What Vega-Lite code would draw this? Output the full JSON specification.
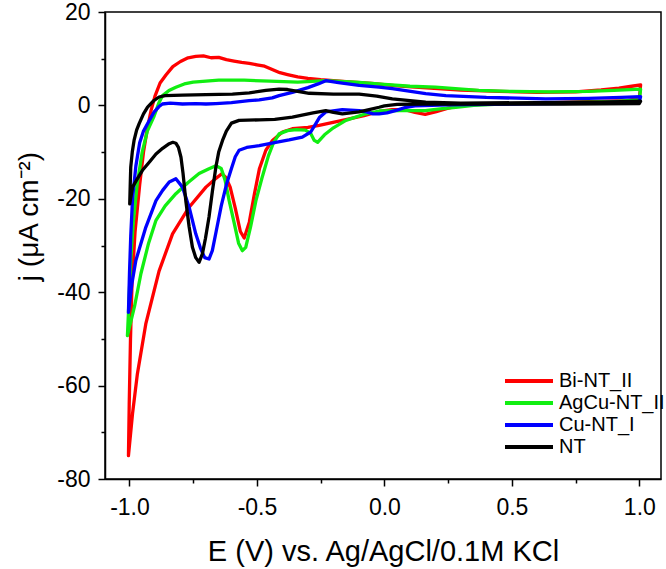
{
  "$schema": "https://vega.github.io/schema/vega-lite/v6.json",
  "autosize": {"type": "none"},
  "padding": {"left": 105, "top": 12, "right": 5, "bottom": 90},
  "width": 556,
  "height": 467,
  "background": "white",
  "config": {
    "font": "Liberation Sans",
    "view": {"stroke": "#000", "strokeWidth": 1.5},
    "axis": {"domainColor": "#000", "domainWidth": 1.5, "tickColor": "#000", "tickWidth": 1.5, "labelColor": "#000", "titleColor": "#000", "grid": false, "titleFontWeight": "normal", "labelFont": "Liberation Sans", "titleFont": "Liberation Sans"}
  },
  "data": {"values": [
    {"s":"Bi-NT_II","i":1,"E":-1.004,"j":-75.0},{"s":"Bi-NT_II","i":2,"E":-1.001,"j":-64},{"s":"Bi-NT_II","i":3,"E":-0.996,"j":-50},{"s":"Bi-NT_II","i":4,"E":-0.990,"j":-38},{"s":"Bi-NT_II","i":5,"E":-0.978,"j":-27},{"s":"Bi-NT_II","i":6,"E":-0.960,"j":-17},{"s":"Bi-NT_II","i":7,"E":-0.945,"j":-10},{"s":"Bi-NT_II","i":8,"E":-0.930,"j":-5},{"s":"Bi-NT_II","i":9,"E":-0.915,"j":-1},{"s":"Bi-NT_II","i":10,"E":-0.900,"j":2},{"s":"Bi-NT_II","i":11,"E":-0.880,"j":4.8},{"s":"Bi-NT_II","i":12,"E":-0.857,"j":6.5},{"s":"Bi-NT_II","i":13,"E":-0.830,"j":8.3},{"s":"Bi-NT_II","i":14,"E":-0.800,"j":9.4},{"s":"Bi-NT_II","i":15,"E":-0.770,"j":10.2},{"s":"Bi-NT_II","i":16,"E":-0.740,"j":10.5},{"s":"Bi-NT_II","i":17,"E":-0.710,"j":10.6},{"s":"Bi-NT_II","i":18,"E":-0.680,"j":10.2},{"s":"Bi-NT_II","i":19,"E":-0.650,"j":10.3},{"s":"Bi-NT_II","i":20,"E":-0.620,"j":9.8},{"s":"Bi-NT_II","i":21,"E":-0.590,"j":9.5},{"s":"Bi-NT_II","i":22,"E":-0.560,"j":9.2},{"s":"Bi-NT_II","i":23,"E":-0.530,"j":9.0},{"s":"Bi-NT_II","i":24,"E":-0.500,"j":8.7},{"s":"Bi-NT_II","i":25,"E":-0.470,"j":8.4},{"s":"Bi-NT_II","i":26,"E":-0.440,"j":7.7},{"s":"Bi-NT_II","i":27,"E":-0.410,"j":7.0},{"s":"Bi-NT_II","i":28,"E":-0.380,"j":6.6},{"s":"Bi-NT_II","i":29,"E":-0.340,"j":6.1},{"s":"Bi-NT_II","i":30,"E":-0.300,"j":5.8},{"s":"Bi-NT_II","i":31,"E":-0.250,"j":5.5},{"s":"Bi-NT_II","i":32,"E":-0.150,"j":5.1},{"s":"Bi-NT_II","i":33,"E":-0.050,"j":4.7},{"s":"Bi-NT_II","i":34,"E":0.050,"j":4.2},{"s":"Bi-NT_II","i":35,"E":0.150,"j":3.8},{"s":"Bi-NT_II","i":36,"E":0.300,"j":3.3},{"s":"Bi-NT_II","i":37,"E":0.450,"j":3.0},{"s":"Bi-NT_II","i":38,"E":0.600,"j":2.8},{"s":"Bi-NT_II","i":39,"E":0.750,"j":2.9},{"s":"Bi-NT_II","i":40,"E":0.850,"j":3.3},{"s":"Bi-NT_II","i":41,"E":0.920,"j":3.7},{"s":"Bi-NT_II","i":42,"E":0.970,"j":4.1},{"s":"Bi-NT_II","i":43,"E":1.005,"j":4.4},{"s":"Bi-NT_II","i":44,"E":1.000,"j":1.5},{"s":"Bi-NT_II","i":45,"E":0.950,"j":1.0},{"s":"Bi-NT_II","i":46,"E":0.800,"j":0.8},{"s":"Bi-NT_II","i":47,"E":0.600,"j":0.5},{"s":"Bi-NT_II","i":48,"E":0.400,"j":0.3},{"s":"Bi-NT_II","i":49,"E":0.300,"j":0.0},{"s":"Bi-NT_II","i":50,"E":0.250,"j":-0.6},{"s":"Bi-NT_II","i":51,"E":0.200,"j":-1.4},{"s":"Bi-NT_II","i":52,"E":0.160,"j":-1.9},{"s":"Bi-NT_II","i":53,"E":0.120,"j":-1.5},{"s":"Bi-NT_II","i":54,"E":0.080,"j":-0.9},{"s":"Bi-NT_II","i":55,"E":0.030,"j":-0.9},{"s":"Bi-NT_II","i":56,"E":-0.020,"j":-1.3},{"s":"Bi-NT_II","i":57,"E":-0.080,"j":-2.2},{"s":"Bi-NT_II","i":58,"E":-0.165,"j":-3.2},{"s":"Bi-NT_II","i":59,"E":-0.256,"j":-4.3},{"s":"Bi-NT_II","i":60,"E":-0.300,"j":-4.7},{"s":"Bi-NT_II","i":61,"E":-0.361,"j":-5.0},{"s":"Bi-NT_II","i":62,"E":-0.400,"j":-5.7},{"s":"Bi-NT_II","i":63,"E":-0.439,"j":-7.5},{"s":"Bi-NT_II","i":64,"E":-0.465,"j":-9.6},{"s":"Bi-NT_II","i":65,"E":-0.490,"j":-13.5},{"s":"Bi-NT_II","i":66,"E":-0.510,"j":-19},{"s":"Bi-NT_II","i":67,"E":-0.530,"j":-25},{"s":"Bi-NT_II","i":68,"E":-0.550,"j":-28.4},{"s":"Bi-NT_II","i":69,"E":-0.565,"j":-27},{"s":"Bi-NT_II","i":70,"E":-0.585,"j":-22},{"s":"Bi-NT_II","i":71,"E":-0.605,"j":-17.5},{"s":"Bi-NT_II","i":72,"E":-0.622,"j":-15.4},{"s":"Bi-NT_II","i":73,"E":-0.637,"j":-14.6},{"s":"Bi-NT_II","i":74,"E":-0.665,"j":-15.8},{"s":"Bi-NT_II","i":75,"E":-0.700,"j":-17.5},{"s":"Bi-NT_II","i":76,"E":-0.766,"j":-21.8},{"s":"Bi-NT_II","i":77,"E":-0.831,"j":-27.5},{"s":"Bi-NT_II","i":78,"E":-0.884,"j":-35.5},{"s":"Bi-NT_II","i":79,"E":-0.936,"j":-46.8},{"s":"Bi-NT_II","i":80,"E":-0.969,"j":-57.5},{"s":"Bi-NT_II","i":81,"E":-0.988,"j":-66},{"s":"Bi-NT_II","i":82,"E":-1.004,"j":-75.0},
    {"s":"AgCu-NT_II","i":1,"E":-1.008,"j":-49.3},{"s":"AgCu-NT_II","i":2,"E":-1.002,"j":-42},{"s":"AgCu-NT_II","i":3,"E":-0.995,"j":-33},{"s":"AgCu-NT_II","i":4,"E":-0.985,"j":-25},{"s":"AgCu-NT_II","i":5,"E":-0.970,"j":-17},{"s":"AgCu-NT_II","i":6,"E":-0.950,"j":-10},{"s":"AgCu-NT_II","i":7,"E":-0.930,"j":-5.5},{"s":"AgCu-NT_II","i":8,"E":-0.905,"j":-2.5},{"s":"AgCu-NT_II","i":9,"E":-0.885,"j":0.5},{"s":"AgCu-NT_II","i":10,"E":-0.870,"j":2.1},{"s":"AgCu-NT_II","i":11,"E":-0.845,"j":3.2},{"s":"AgCu-NT_II","i":12,"E":-0.818,"j":3.9},{"s":"AgCu-NT_II","i":13,"E":-0.785,"j":4.6},{"s":"AgCu-NT_II","i":14,"E":-0.750,"j":5.0},{"s":"AgCu-NT_II","i":15,"E":-0.700,"j":5.2},{"s":"AgCu-NT_II","i":16,"E":-0.650,"j":5.4},{"s":"AgCu-NT_II","i":17,"E":-0.550,"j":5.4},{"s":"AgCu-NT_II","i":18,"E":-0.450,"j":5.2},{"s":"AgCu-NT_II","i":19,"E":-0.340,"j":5.0},{"s":"AgCu-NT_II","i":20,"E":-0.230,"j":5.3},{"s":"AgCu-NT_II","i":21,"E":-0.100,"j":4.9},{"s":"AgCu-NT_II","i":22,"E":0.000,"j":4.5},{"s":"AgCu-NT_II","i":23,"E":0.100,"j":4.1},{"s":"AgCu-NT_II","i":24,"E":0.200,"j":3.9},{"s":"AgCu-NT_II","i":25,"E":0.370,"j":3.2},{"s":"AgCu-NT_II","i":26,"E":0.500,"j":3.0},{"s":"AgCu-NT_II","i":27,"E":0.650,"j":2.9},{"s":"AgCu-NT_II","i":28,"E":0.800,"j":3.0},{"s":"AgCu-NT_II","i":29,"E":0.900,"j":3.2},{"s":"AgCu-NT_II","i":30,"E":1.005,"j":3.5},{"s":"AgCu-NT_II","i":31,"E":1.000,"j":1.2},{"s":"AgCu-NT_II","i":32,"E":0.900,"j":0.8},{"s":"AgCu-NT_II","i":33,"E":0.700,"j":0.6},{"s":"AgCu-NT_II","i":34,"E":0.500,"j":0.4},{"s":"AgCu-NT_II","i":35,"E":0.350,"j":0.0},{"s":"AgCu-NT_II","i":36,"E":0.280,"j":-0.4},{"s":"AgCu-NT_II","i":37,"E":0.227,"j":-0.7},{"s":"AgCu-NT_II","i":38,"E":0.160,"j":-1.1},{"s":"AgCu-NT_II","i":39,"E":0.060,"j":-1.1},{"s":"AgCu-NT_II","i":40,"E":-0.020,"j":-1.2},{"s":"AgCu-NT_II","i":41,"E":-0.073,"j":-1.8},{"s":"AgCu-NT_II","i":42,"E":-0.151,"j":-3.2},{"s":"AgCu-NT_II","i":43,"E":-0.200,"j":-4.8},{"s":"AgCu-NT_II","i":44,"E":-0.235,"j":-6.3},{"s":"AgCu-NT_II","i":45,"E":-0.262,"j":-7.9},{"s":"AgCu-NT_II","i":46,"E":-0.275,"j":-7.5},{"s":"AgCu-NT_II","i":47,"E":-0.289,"j":-6.0},{"s":"AgCu-NT_II","i":48,"E":-0.310,"j":-5.3},{"s":"AgCu-NT_II","i":49,"E":-0.345,"j":-5.2},{"s":"AgCu-NT_II","i":50,"E":-0.380,"j":-5.4},{"s":"AgCu-NT_II","i":51,"E":-0.413,"j":-6.1},{"s":"AgCu-NT_II","i":52,"E":-0.435,"j":-8.0},{"s":"AgCu-NT_II","i":53,"E":-0.455,"j":-10.8},{"s":"AgCu-NT_II","i":54,"E":-0.480,"j":-15.5},{"s":"AgCu-NT_II","i":55,"E":-0.504,"j":-20.4},{"s":"AgCu-NT_II","i":56,"E":-0.525,"j":-26},{"s":"AgCu-NT_II","i":57,"E":-0.544,"j":-30.4},{"s":"AgCu-NT_II","i":58,"E":-0.557,"j":-31.1},{"s":"AgCu-NT_II","i":59,"E":-0.572,"j":-29.5},{"s":"AgCu-NT_II","i":60,"E":-0.590,"j":-25},{"s":"AgCu-NT_II","i":61,"E":-0.609,"j":-20.4},{"s":"AgCu-NT_II","i":62,"E":-0.625,"j":-16},{"s":"AgCu-NT_II","i":63,"E":-0.640,"j":-13.5},{"s":"AgCu-NT_II","i":64,"E":-0.661,"j":-12.9},{"s":"AgCu-NT_II","i":65,"E":-0.690,"j":-13.6},{"s":"AgCu-NT_II","i":66,"E":-0.727,"j":-14.6},{"s":"AgCu-NT_II","i":67,"E":-0.770,"j":-16.5},{"s":"AgCu-NT_II","i":68,"E":-0.818,"j":-18.9},{"s":"AgCu-NT_II","i":69,"E":-0.860,"j":-21.5},{"s":"AgCu-NT_II","i":70,"E":-0.896,"j":-24.6},{"s":"AgCu-NT_II","i":71,"E":-0.925,"j":-29.5},{"s":"AgCu-NT_II","i":72,"E":-0.955,"j":-36},{"s":"AgCu-NT_II","i":73,"E":-0.980,"j":-43},{"s":"AgCu-NT_II","i":74,"E":-1.008,"j":-49.3},
    {"s":"Cu-NT_I","i":1,"E":-1.004,"j":-44.3},{"s":"Cu-NT_I","i":2,"E":-1.000,"j":-36},{"s":"Cu-NT_I","i":3,"E":-0.995,"j":-28},{"s":"Cu-NT_I","i":4,"E":-0.988,"j":-20},{"s":"Cu-NT_I","i":5,"E":-0.975,"j":-13},{"s":"Cu-NT_I","i":6,"E":-0.960,"j":-8},{"s":"Cu-NT_I","i":7,"E":-0.945,"j":-5.5},{"s":"Cu-NT_I","i":8,"E":-0.925,"j":-3.5},{"s":"Cu-NT_I","i":9,"E":-0.903,"j":-1.4},{"s":"Cu-NT_I","i":10,"E":-0.885,"j":-0.3},{"s":"Cu-NT_I","i":11,"E":-0.871,"j":0.3},{"s":"Cu-NT_I","i":12,"E":-0.840,"j":0.5},{"s":"Cu-NT_I","i":13,"E":-0.792,"j":0.3},{"s":"Cu-NT_I","i":14,"E":-0.740,"j":0.4},{"s":"Cu-NT_I","i":15,"E":-0.700,"j":0.3},{"s":"Cu-NT_I","i":16,"E":-0.661,"j":0.4},{"s":"Cu-NT_I","i":17,"E":-0.600,"j":0.6},{"s":"Cu-NT_I","i":18,"E":-0.531,"j":1.0},{"s":"Cu-NT_I","i":19,"E":-0.491,"j":1.2},{"s":"Cu-NT_I","i":20,"E":-0.440,"j":1.6},{"s":"Cu-NT_I","i":21,"E":-0.413,"j":2.1},{"s":"Cu-NT_I","i":22,"E":-0.361,"j":2.8},{"s":"Cu-NT_I","i":23,"E":-0.300,"j":3.8},{"s":"Cu-NT_I","i":24,"E":-0.260,"j":4.6},{"s":"Cu-NT_I","i":25,"E":-0.230,"j":5.3},{"s":"Cu-NT_I","i":26,"E":-0.180,"j":4.9},{"s":"Cu-NT_I","i":27,"E":-0.099,"j":4.3},{"s":"Cu-NT_I","i":28,"E":-0.021,"j":3.9},{"s":"Cu-NT_I","i":29,"E":0.031,"j":3.6},{"s":"Cu-NT_I","i":30,"E":0.162,"j":2.5},{"s":"Cu-NT_I","i":31,"E":0.241,"j":2.1},{"s":"Cu-NT_I","i":32,"E":0.400,"j":1.7},{"s":"Cu-NT_I","i":33,"E":0.633,"j":1.4},{"s":"Cu-NT_I","i":34,"E":0.800,"j":1.5},{"s":"Cu-NT_I","i":35,"E":0.930,"j":1.7},{"s":"Cu-NT_I","i":36,"E":1.005,"j":1.9},{"s":"Cu-NT_I","i":37,"E":1.000,"j":0.8},{"s":"Cu-NT_I","i":38,"E":0.800,"j":0.5},{"s":"Cu-NT_I","i":39,"E":0.500,"j":0.3},{"s":"Cu-NT_I","i":40,"E":0.250,"j":0.1},{"s":"Cu-NT_I","i":41,"E":0.120,"j":-0.1},{"s":"Cu-NT_I","i":42,"E":0.084,"j":-0.4},{"s":"Cu-NT_I","i":43,"E":0.050,"j":-1.0},{"s":"Cu-NT_I","i":44,"E":0.010,"j":-1.6},{"s":"Cu-NT_I","i":45,"E":-0.021,"j":-1.8},{"s":"Cu-NT_I","i":46,"E":-0.045,"j":-1.8},{"s":"Cu-NT_I","i":47,"E":-0.070,"j":-1.4},{"s":"Cu-NT_I","i":48,"E":-0.099,"j":-1.1},{"s":"Cu-NT_I","i":49,"E":-0.165,"j":-0.9},{"s":"Cu-NT_I","i":50,"E":-0.230,"j":-1.4},{"s":"Cu-NT_I","i":51,"E":-0.255,"j":-2.6},{"s":"Cu-NT_I","i":52,"E":-0.269,"j":-3.9},{"s":"Cu-NT_I","i":53,"E":-0.289,"j":-5.7},{"s":"Cu-NT_I","i":54,"E":-0.322,"j":-6.8},{"s":"Cu-NT_I","i":55,"E":-0.374,"j":-7.4},{"s":"Cu-NT_I","i":56,"E":-0.426,"j":-7.9},{"s":"Cu-NT_I","i":57,"E":-0.491,"j":-8.6},{"s":"Cu-NT_I","i":58,"E":-0.540,"j":-9.0},{"s":"Cu-NT_I","i":59,"E":-0.570,"j":-9.6},{"s":"Cu-NT_I","i":60,"E":-0.585,"j":-11},{"s":"Cu-NT_I","i":61,"E":-0.600,"j":-13.5},{"s":"Cu-NT_I","i":62,"E":-0.620,"j":-17},{"s":"Cu-NT_I","i":63,"E":-0.640,"j":-21.5},{"s":"Cu-NT_I","i":64,"E":-0.660,"j":-27},{"s":"Cu-NT_I","i":65,"E":-0.675,"j":-31.1},{"s":"Cu-NT_I","i":66,"E":-0.688,"j":-32.9},{"s":"Cu-NT_I","i":67,"E":-0.705,"j":-32.6},{"s":"Cu-NT_I","i":68,"E":-0.722,"j":-30.5},{"s":"Cu-NT_I","i":69,"E":-0.740,"j":-27.5},{"s":"Cu-NT_I","i":70,"E":-0.766,"j":-21.8},{"s":"Cu-NT_I","i":71,"E":-0.792,"j":-17.5},{"s":"Cu-NT_I","i":72,"E":-0.818,"j":-15.7},{"s":"Cu-NT_I","i":73,"E":-0.844,"j":-16.4},{"s":"Cu-NT_I","i":74,"E":-0.870,"j":-18.2},{"s":"Cu-NT_I","i":75,"E":-0.896,"j":-20.4},{"s":"Cu-NT_I","i":76,"E":-0.936,"j":-26.1},{"s":"Cu-NT_I","i":77,"E":-0.975,"j":-33.2},{"s":"Cu-NT_I","i":78,"E":-0.990,"j":-38},{"s":"Cu-NT_I","i":79,"E":-1.004,"j":-44.3},
    {"s":"NT","i":1,"E":-0.999,"j":-21.1},{"s":"NT","i":2,"E":-0.997,"j":-17},{"s":"NT","i":3,"E":-0.995,"j":-13.2},{"s":"NT","i":4,"E":-0.989,"j":-10},{"s":"NT","i":5,"E":-0.982,"j":-7.5},{"s":"NT","i":6,"E":-0.972,"j":-5.3},{"s":"NT","i":7,"E":-0.962,"j":-3.9},{"s":"NT","i":8,"E":-0.945,"j":-1.8},{"s":"NT","i":9,"E":-0.929,"j":-0.35},{"s":"NT","i":10,"E":-0.905,"j":1.0},{"s":"NT","i":11,"E":-0.884,"j":1.8},{"s":"NT","i":12,"E":-0.860,"j":2.1},{"s":"NT","i":13,"E":-0.792,"j":2.2},{"s":"NT","i":14,"E":-0.700,"j":2.3},{"s":"NT","i":15,"E":-0.596,"j":2.4},{"s":"NT","i":16,"E":-0.530,"j":2.7},{"s":"NT","i":17,"E":-0.465,"j":3.2},{"s":"NT","i":18,"E":-0.413,"j":3.5},{"s":"NT","i":19,"E":-0.380,"j":3.4},{"s":"NT","i":20,"E":-0.340,"j":3.0},{"s":"NT","i":21,"E":-0.295,"j":2.6},{"s":"NT","i":22,"E":-0.200,"j":2.4},{"s":"NT","i":23,"E":-0.099,"j":2.4},{"s":"NT","i":24,"E":-0.030,"j":2.0},{"s":"NT","i":25,"E":0.031,"j":1.4},{"s":"NT","i":26,"E":0.100,"j":1.0},{"s":"NT","i":27,"E":0.162,"j":0.7},{"s":"NT","i":28,"E":0.300,"j":0.5},{"s":"NT","i":29,"E":0.600,"j":0.6},{"s":"NT","i":30,"E":0.850,"j":0.7},{"s":"NT","i":31,"E":1.005,"j":0.9},{"s":"NT","i":32,"E":1.000,"j":0.4},{"s":"NT","i":33,"E":0.700,"j":0.3},{"s":"NT","i":34,"E":0.400,"j":0.3},{"s":"NT","i":35,"E":0.150,"j":0.3},{"s":"NT","i":36,"E":0.050,"j":0.2},{"s":"NT","i":37,"E":0.000,"j":-0.1},{"s":"NT","i":38,"E":-0.021,"j":-0.4},{"s":"NT","i":39,"E":-0.060,"j":-0.9},{"s":"NT","i":40,"E":-0.099,"j":-1.4},{"s":"NT","i":41,"E":-0.165,"j":-1.8},{"s":"NT","i":42,"E":-0.200,"j":-1.5},{"s":"NT","i":43,"E":-0.230,"j":-1.1},{"s":"NT","i":44,"E":-0.280,"j":-1.6},{"s":"NT","i":45,"E":-0.361,"j":-2.5},{"s":"NT","i":46,"E":-0.430,"j":-3.0},{"s":"NT","i":47,"E":-0.491,"j":-3.1},{"s":"NT","i":48,"E":-0.570,"j":-3.2},{"s":"NT","i":49,"E":-0.600,"j":-3.8},{"s":"NT","i":50,"E":-0.620,"j":-5.5},{"s":"NT","i":51,"E":-0.635,"j":-7.5},{"s":"NT","i":52,"E":-0.650,"j":-10},{"s":"NT","i":53,"E":-0.661,"j":-13.2},{"s":"NT","i":54,"E":-0.675,"j":-18.5},{"s":"NT","i":55,"E":-0.688,"j":-23.9},{"s":"NT","i":56,"E":-0.702,"j":-28.5},{"s":"NT","i":57,"E":-0.714,"j":-31.8},{"s":"NT","i":58,"E":-0.727,"j":-33.6},{"s":"NT","i":59,"E":-0.740,"j":-32.6},{"s":"NT","i":60,"E":-0.753,"j":-30.4},{"s":"NT","i":61,"E":-0.766,"j":-26},{"s":"NT","i":62,"E":-0.779,"j":-20.4},{"s":"NT","i":63,"E":-0.790,"j":-14.5},{"s":"NT","i":64,"E":-0.798,"j":-11.1},{"s":"NT","i":65,"E":-0.808,"j":-9.0},{"s":"NT","i":66,"E":-0.818,"j":-8.1},{"s":"NT","i":67,"E":-0.830,"j":-7.9},{"s":"NT","i":68,"E":-0.844,"j":-8.2},{"s":"NT","i":69,"E":-0.870,"j":-9.2},{"s":"NT","i":70,"E":-0.896,"j":-10.4},{"s":"NT","i":71,"E":-0.920,"j":-12},{"s":"NT","i":72,"E":-0.949,"j":-13.9},{"s":"NT","i":73,"E":-0.970,"j":-15.8},{"s":"NT","i":74,"E":-0.988,"j":-17.5},{"s":"NT","i":75,"E":-0.999,"j":-21.1}
  ]},
  "mark": {"type": "line", "strokeWidth": 3.3, "strokeJoin": "round", "strokeCap": "round", "clip": true},
  "encoding": {
    "x": {"field": "E", "type": "quantitative",
      "scale": {"domain": [-1.096, 1.085], "nice": false, "zero": false},
      "axis": {
        "values": [-1, -0.75, -0.5, -0.25, 0, 0.25, 0.5, 0.75, 1],
        "labelExpr": "abs(datum.value*2 - round(datum.value*2)) > 0.01 ? '' : (datum.value < -0.001 ? '-' : '') + format(abs(datum.value), '.1f')",
        "tickSize": {"condition": {"test": "abs(datum.value*2 - round(datum.value*2)) > 0.01", "value": 4}, "value": 7},
        "title": "E (V) vs. Ag/AgCl/0.1M KCl",
        "titleFontSize": 29, "titleBaseline": "alphabetic", "titleY": 81,
        "labelFontSize": 23, "labelPadding": 10, "labelOverlap": false, "labelFlush": false
      }
    },
    "y": {"field": "j", "type": "quantitative",
      "scale": {"domain": [-80, 20], "nice": false, "zero": false},
      "axis": {
        "values": [-80, -70, -60, -50, -40, -30, -20, -10, 0, 10, 20],
        "labelExpr": "datum.value % 20 != 0 ? '' : (datum.value < 0 ? '-' : '') + format(abs(datum.value), 'd')",
        "tickSize": {"condition": {"test": "datum.value % 20 != 0", "value": 4}, "value": 7},
        "title": "j (μA cm⁻²)",
        "titleFontSize": 28, "titleAngle": -90, "titleBaseline": "alphabetic", "titleX": -68, "titleY": 204,
        "labelFontSize": 23, "labelPadding": 8, "labelOverlap": false, "labelFlush": false
      }
    },
    "color": {"field": "s", "type": "nominal",
      "scale": {"domain": ["Bi-NT_II", "AgCu-NT_II", "Cu-NT_I", "NT"], "range": ["#ff0000", "#11ee11", "#0000ff", "#000000"]},
      "legend": {
        "title": null, "orient": "none", "legendX": 414, "legendY": 359, "padding": 0,
        "symbolType": "M -4.8 0 L 4.8 0", "symbolSize": 100, "symbolStrokeWidth": 4,
        "labelFontSize": 20, "labelOffset": 20, "rowPadding": 2, "labelColor": "#000", "labelFont": "Liberation Sans", "labelLimit": 200
      }
    },
    "order": {"field": "i", "type": "quantitative"}
  }
}
